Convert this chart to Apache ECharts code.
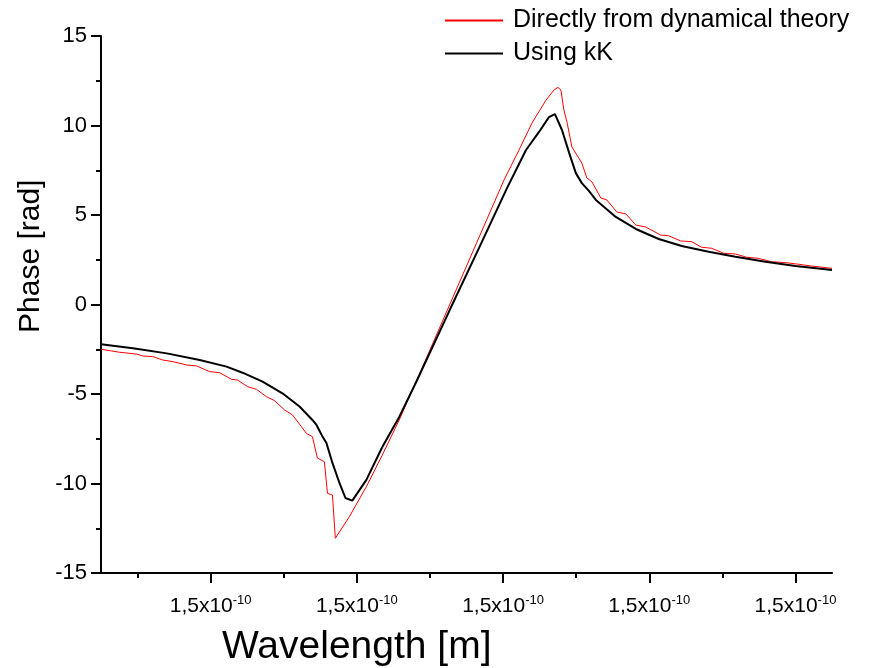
<!DOCTYPE html>
<html lang="en">
<head>
    <meta charset="UTF-8">
    <title>Phase vs wavelength</title>
    <script src="https://cdn.jsdelivr.net/npm/echarts@6/dist/echarts.min.js"></script>
    <style>
        * { margin: 0; padding: 0; }
        body { background: #fff; }
        #paint { width: 880px; height: 668px; }
    </style>
</head>
<body>
    <div id="paint"></div>
    <script>
        // x is in tick units: major ticks at 1..5, all labelled 1,5x10^-10
        var xMajor = [1, 2, 3, 4, 5];
        var xMinor = [0.5, 1.5, 2.5, 3.5, 4.5];
        var xTickText = '1,5x10';
        var xTickExp = '-10';

        var directX = [0.25, 0.379, 0.495, 0.536, 0.604, 0.672, 0.741, 0.836, 0.904, 0.993,
            1.061, 1.143, 1.184, 1.253, 1.314, 1.382, 1.437, 1.505, 1.560, 1.621,
            1.655, 1.696, 1.730, 1.778, 1.799, 1.833, 1.853, 1.949, 2.065, 2.174,
            2.290, 2.406, 3.007, 3.109, 3.198, 3.294, 3.348, 3.375, 3.396, 3.416,
            3.437, 3.471, 3.505, 3.539, 3.573, 3.608, 3.669, 3.710, 3.778, 3.840,
            3.908, 3.976, 4.078, 4.133, 4.215, 4.290, 4.358, 4.427, 4.509, 4.590,
            4.666, 4.747, 4.836, 4.932, 5.020, 5.109, 5.25];
        var directY = [-2.50, -2.67, -2.77, -2.88, -2.91, -3.10, -3.19, -3.38, -3.43, -3.75,
            -3.81, -4.18, -4.22, -4.59, -4.74, -5.15, -5.37, -5.89, -6.17, -6.83,
            -7.20, -7.38, -8.58, -8.78, -10.55, -10.64, -13.06, -11.85, -10.18, -8.41,
            -6.45, -4.30, 6.96, 8.63, 10.14, 11.42, 11.98, 12.13, 11.98, 10.87,
            10.2, 8.8, 8.35, 7.9, 7.07, 6.85, 5.95, 5.84, 5.17, 5.06,
            4.44, 4.33, 3.88, 3.84, 3.55, 3.51, 3.20, 3.14, 2.86, 2.82,
            2.64, 2.58, 2.39, 2.34, 2.25, 2.15, 2.02];

        var kkX = [0.25, 0.468, 0.700, 0.925, 1.109, 1.218, 1.355, 1.491, 1.608, 1.696,
            1.724, 1.765, 1.792, 1.833, 1.881, 1.922, 1.969, 2.065, 2.174, 2.290,
            2.406, 2.631, 2.836, 3.027, 3.157, 3.246, 3.314, 3.355, 3.403, 3.451,
            3.498, 3.539, 3.587, 3.635, 3.771, 3.908, 4.065, 4.222, 4.406, 4.590,
            4.795, 5.000, 5.25];
        var kkY = [-2.22, -2.45, -2.73, -3.10, -3.47, -3.81, -4.31, -4.96, -5.70, -6.45,
            -6.73, -7.38, -7.74, -8.85, -9.97, -10.81, -10.96, -9.80, -7.96, -6.28,
            -4.33, -0.38, 3.16, 6.5, 8.63, 9.64, 10.47, 10.64, 9.75, 8.5,
            7.34, 6.78, 6.35, 5.84, 4.89, 4.22, 3.66, 3.27, 2.95, 2.67,
            2.39, 2.15, 1.93];

        function pairs(xs, ys) {
            return xs.map(function (x, i) { return [x, ys[i]]; });
        }

        var font = 'Liberation Sans, Arial, sans-serif';
        var mychart = echarts.init(document.getElementById('paint'));

        var option = {
            animation: false,
            grid: { left: 101, right: 48, top: 36, bottom: 95 },
            legend: {
                left: 440,
                top: 3,
                orient: 'vertical',
                icon: 'rect',
                itemWidth: 58,
                itemHeight: 2,
                itemGap: 8,
                textStyle: { fontFamily: font, fontSize: 25, color: '#000', lineHeight: 25, padding: [0, 0, 0, 5] },
                data: ['Directly from dynamical theory', 'Using kK']
            },
            xAxis: [{
                type: 'value',
                min: 0.25,
                max: 5.25,
                position: 'bottom',
                splitLine: { show: false },
                axisLine: { onZero: false, lineStyle: { color: '#000', width: 2 } },
                axisTick: { customValues: xMajor, length: 10, lineStyle: { color: '#000', width: 2 } },
                axisLabel: {
                    customValues: xMajor,
                    margin: 21,
                    formatter: function () { return '{m|' + xTickText + '}{s|' + xTickExp + '}'; },
                    rich: {
                        m: { fontFamily: font, fontSize: 21, color: '#000', lineHeight: 24 },
                        s: { fontFamily: font, fontSize: 13, color: '#000', lineHeight: 13, verticalAlign: 'top' }
                    }
                }
            }, {
                type: 'value',
                min: 0.25,
                max: 5.25,
                position: 'bottom',
                splitLine: { show: false },
                axisLine: { show: false, onZero: false },
                axisTick: { customValues: xMinor, length: 5, lineStyle: { color: '#000', width: 2 } },
                axisLabel: { show: false }
            }],
            yAxis: {
                type: 'value',
                min: -15,
                max: 15,
                interval: 5,
                splitLine: { show: false },
                axisLine: { show: true, onZero: false, lineStyle: { color: '#000', width: 2 } },
                axisTick: { show: true, length: 10, lineStyle: { color: '#000', width: 2 } },
                minorTick: { show: true, splitNumber: 2, length: 5, lineStyle: { color: '#000', width: 2 } },
                axisLabel: { fontFamily: font, fontSize: 22, color: '#000', margin: 14 }
            },
            graphic: [{
                type: 'text',
                left: 222,
                top: 628,
                style: { text: 'Wavelength [m]', fontFamily: font, fontSize: 39, fill: '#000' }
            }, {
                type: 'text',
                x: 16,
                y: 333,
                rotation: Math.PI / 2,
                style: { text: 'Phase [rad]', fontFamily: font, fontSize: 30, fill: '#000', verticalAlign: 'top' }
            }],
            series: [{
                name: 'Directly from dynamical theory',
                type: 'line',
                symbol: 'none',
                data: pairs(directX, directY),
                lineStyle: { color: '#ff0000', width: 1 },
                itemStyle: { color: '#ff0000' }
            }, {
                name: 'Using kK',
                type: 'line',
                symbol: 'none',
                data: pairs(kkX, kkY),
                lineStyle: { color: '#000', width: 2 },
                itemStyle: { color: '#000' }
            }]
        };
        mychart.setOption(option);
    </script>
</body>
</html>
